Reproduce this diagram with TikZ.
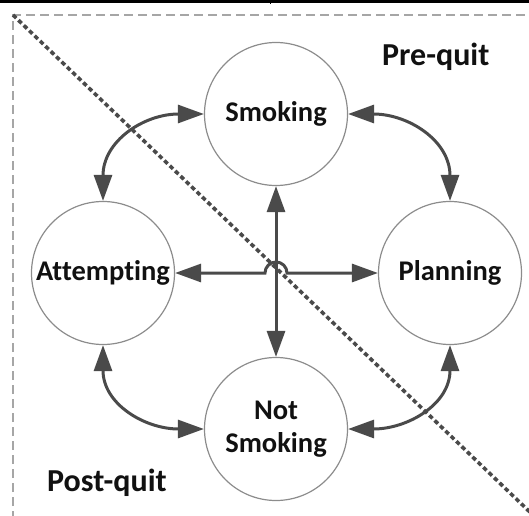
\documentclass[tikz,border=0pt]{standalone}
\usepackage{fontspec}
\setmainfont{Carlito}[RawFeature=-liga]
\usetikzlibrary{arrows.meta}
\definecolor{linkgray}{HTML}{4A4A4A}
\definecolor{ringgray}{HTML}{8C8C8C}
\definecolor{framegray}{HTML}{A6A6A6}
\definecolor{inkblack}{HTML}{111111}
\tikzset{
  state/.style={circle, draw=ringgray, line width=1.2pt, minimum size=143pt,
    inner sep=0pt, font=\fontsize{28.5}{33}\selectfont\bfseries, text=inkblack, align=center},
  zone/.style={font=\fontsize{32}{38}\selectfont\bfseries, text=inkblack, inner sep=0pt},
  link/.style={draw=linkgray, line width=3pt,
    {Triangle[length=26pt,width=18pt]}-{Triangle[length=26pt,width=18pt]}},
}
\begin{document}
\begin{tikzpicture}[x=1pt,y=1pt]
\useasboundingbox (0,0) rectangle (529,515);
\clip (0,0) rectangle (529,515);
% rule of the table above
\draw[black, line width=2.2pt] (0,513.5) -- (529,513.5);
\draw[black, line width=1pt] (270,515) -- (270,511);
% dashed frame
\draw[framegray, line width=1.4pt, dash pattern=on 9pt off 5pt]
  (13,-5) -- (13,500) -- (540,500);
% dotted diagonal separating pre-quit and post-quit
\draw[linkgray, line width=3.6pt, dash pattern=on 4.5pt off 3pt]
  (13,500) -- (534,-1);
% states
\node[state] (S) at (276,401) {Smoking};
\node[state] (A) at (103,242) {Attempting};
\node[state] (P) at (450,242) {Planning};
\node[state] (N) at (276,86) {Not\\Smoking};
\coordinate (hopL) at (265,242);
% zone labels
\node[zone, anchor=base west] (pre) at (382,449) {Pre-quit};
\node[zone, anchor=base west] (post) at (47,24) {Post-quit};
% curved transitions
\draw[link] (S.west) to[out=180,in=90,looseness=1.15] (A.north);
\draw[link] (S.east) to[out=0,in=90,looseness=1.15] (P.north);
\draw[link] (A.south) to[out=-90,in=180,looseness=1.15] (N.west);
\draw[link] (P.south) to[out=-90,in=0,looseness=1.15] (N.east);
% central cross
\draw[link] (S.south) -- (N.north);
\draw[link] (A.east) -- (hopL) arc[start angle=180, end angle=0, radius=11pt] -- (P.west);
\end{tikzpicture}
\end{document}
